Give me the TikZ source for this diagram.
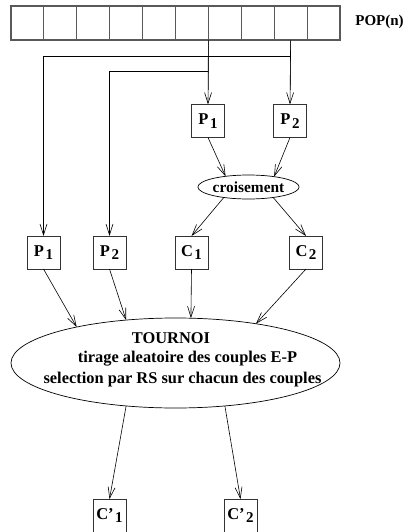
\documentclass[tikz,border=0pt]{standalone}
\usepackage{fontspec}
\setmainfont{Liberation Serif}
\usetikzlibrary{shapes.geometric,arrows.meta,calc}
\newcommand\sbx[2]{#1\kern1.5pt\raisebox{-3.5pt}{\fontsize{15}{15}\selectfont #2}}
\begin{document}
\begin{tikzpicture}[x=1pt,y=-1pt,
  font=\fontsize{15}{17}\selectfont\bfseries,
  big/.style={font=\fontsize{16.4}{18}\selectfont\bfseries},
  cell/.style={draw=black!65,line width=1.1pt,minimum width=32.9pt,minimum height=34pt,inner sep=0,outer sep=0},
  bx/.style={draw=black!80,line width=0.8pt,minimum width=33pt,minimum height=33pt,inner sep=0,outer sep=0,font=\fontsize{16.5}{18}\selectfont\bfseries},
  arr/.style={line width=0.6pt,-{Straight Barb[length=11pt,width=7pt]}},
  feed/.style={draw=black!60,line width=1.1pt},
  ell/.style={draw,ellipse,line width=0.7pt,inner sep=0,outer sep=0}]
\useasboundingbox (0,0) rectangle (408,532);
% population array
\foreach \i in {1,...,10}{
  \node[cell] (c\i) at ({11+(\i-0.5)*32.9},23) {};
}
\node (pop) at (379.5,22) {POP(n)};
% upper parents
\node[bx] (up1) at (208,121) {\sbx{P}{1}};
\node[bx] (up2) at (290,121) {\sbx{P}{2}};
% croisement
\node[ell,minimum width=99pt,minimum height=24pt,font=\fontsize{15.4}{17}\selectfont\bfseries] (cr) at (248.5,187) {croisement};
% second row
\node[bx] (lp1) at (43.5,252.5) {\sbx{P}{1}};
\node[bx] (lp2) at (109.5,252.5) {\sbx{P}{2}};
\node[bx] (c1) at (191.5,252.5) {\sbx{C}{1}};
\node[bx] (c2) at (306,252.5) {\sbx{C}{2}};
% tournoi
\node[ell,minimum width=329pt,minimum height=90pt] (tour) at (175.5,363) {};
\node[big] (t1) at (171,338) {TOURNOI};
\node[big] (t2) at (187.5,359) {tirage aleatoire des couples E-P};
\node[big] (t3) at (182.5,380) {selection par RS sur chacun des couples};
% results
\node[bx] (r1) at (109.5,515.5) {\sbx{C’}{1}};
\node[bx] (r2) at (240.5,515.5) {\sbx{C’}{2}};
% feeds from array
\coordinate (fa) at (c7.south west);
\coordinate (fb) at (c9.south);
\draw[feed] (fa) -- ($(fa)+(0,50)$);
\draw[feed] (fb) -- ($(fb)+(0,50)$);
\draw[arr] (fa) -- (up1.north);
\draw[arr] (fb) -- (up2.north);
\draw[arr] ($(fb)+(0,16)$) -| (lp1.north);
\draw[arr] ($(fa)+(0,31)$) -| (lp2.north);
% croisement arrows
\draw[arr] (up1.south) -- (cr.155);
\draw[arr] (up2.south) -- (cr.22);
\draw[arr] (cr.203) -- (c1.north);
\draw[arr] (cr.337) -- (c2.north);
% into tournoi
\draw[arr] (lp1.south) -- (tour.160);
\draw[arr] (lp2.south) -- (tour.139);
\draw[arr] (c1.south) -- (tour.71);
\draw[arr] (c2.south) -- (tour.26);
% out of tournoi
\draw[arr] (tour.221) -- (r1.north);
\draw[arr] (tour.319) -- (r2.north);
\end{tikzpicture}
\end{document}
